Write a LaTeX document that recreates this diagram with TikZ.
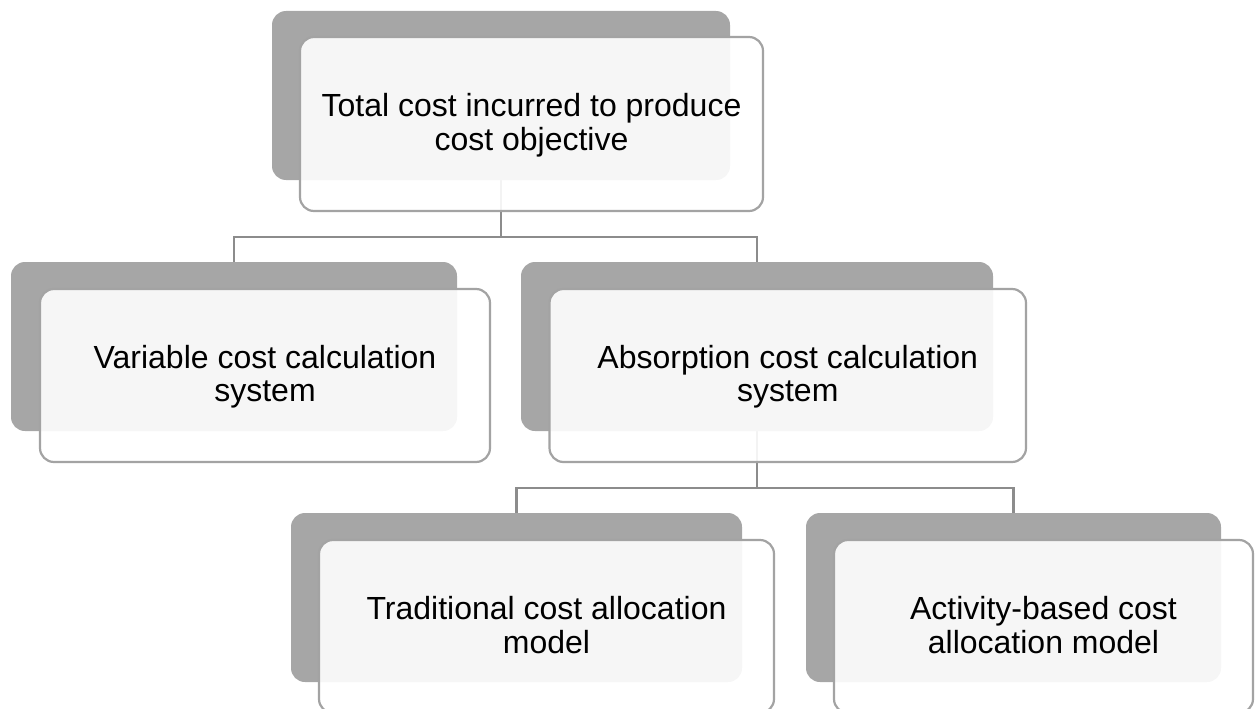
\documentclass[tikz,border=0pt]{standalone}
\usepackage{fontspec}
\setmainfont{Liberation Sans}
\usetikzlibrary{calc,backgrounds}
\definecolor{backgray}{HTML}{A6A6A6}
\definecolor{edgegray}{HTML}{A3A3A3}
\definecolor{conngray}{HTML}{8C8C8C}
\begin{document}
\begin{tikzpicture}[x=1pt,y=-1pt,
  backbox/.style={rectangle, rounded corners=14pt, fill=backgray, draw=none,
    minimum height=169pt, inner sep=0pt},
  frontbox/.style={rectangle, rounded corners=14pt, fill=white, fill opacity=0.9,
    draw=edgegray, line width=2.2pt, minimum height=173pt, inner sep=0pt},
  txt/.style={inner sep=0pt, align=center, text=black,
    font=\fontsize{32}{33.5}\selectfont},
  txtlow/.style={txt, font=\fontsize{32}{30.5}\selectfont},
  conn/.style={draw=conngray, line width=2.4pt}]
\useasboundingbox (0,0) rectangle (1259,709);
\clip (0,0) rectangle (1259,709);
% top
\node[backbox, minimum width=458pt] (topb) at (501,95.5) {};
\node[frontbox, minimum width=463pt, minimum height=174pt] (topf) at (531.5,124) {};
\node[txt] (topt) at ($(topf.center)+(0,3)$) {\strut Total cost incurred to produce\\cost objective\strut};
% level 2
\node[backbox, minimum width=446pt] (varb) at (234,346.5) {};
\node[frontbox, minimum width=450pt] (varf) at (265,375.5) {};
\node[txt] (vart) at ($(varf.center)+(0,3)$) {\strut Variable cost calculation\\system\strut};
\node[backbox, minimum width=472pt] (absb) at (757,346.5) {};
\node[frontbox, minimum width=476.5pt] (absf) at (787.75,375.5) {};
\node[txt] (abst) at ($(absf.center)+(0,3)$) {\strut Absorption cost calculation\\system\strut};
% level 3
\node[backbox, minimum width=451pt] (trab) at (516.5,597.5) {};
\node[frontbox, minimum width=455pt] (traf) at (546.5,626.5) {};
\node[txtlow] (trat) at ($(traf.center)+(0,3)$) {\strut Traditional cost allocation\\model\strut};
\node[backbox, minimum width=415pt] (actb) at (1013.5,597.5) {};
\node[frontbox, minimum width=419pt] (actf) at (1043.5,626.5) {};
\node[txtlow] (actt) at ($(actf.center)+(0,3)$) {\strut Activity-based cost\\allocation model\strut};
% connectors
\begin{pgfonlayer}{background}
\coordinate (bus1) at ($(topf.south)!0.5!(varb.north)$);
\coordinate (bus2) at ($(absf.south)!0.5!(trab.north)$);
\draw[conn] (topb.south) -- (topb.south |- bus1) -| (varb.north);
\draw[conn] (topb.south |- bus1) -| (absb.north);
\draw[conn] (absb.south) -- (absb.south |- bus2) -| (trab.north);
\draw[conn] (absb.south |- bus2) -| (actb.north);
\end{pgfonlayer}
\end{tikzpicture}
\end{document}
